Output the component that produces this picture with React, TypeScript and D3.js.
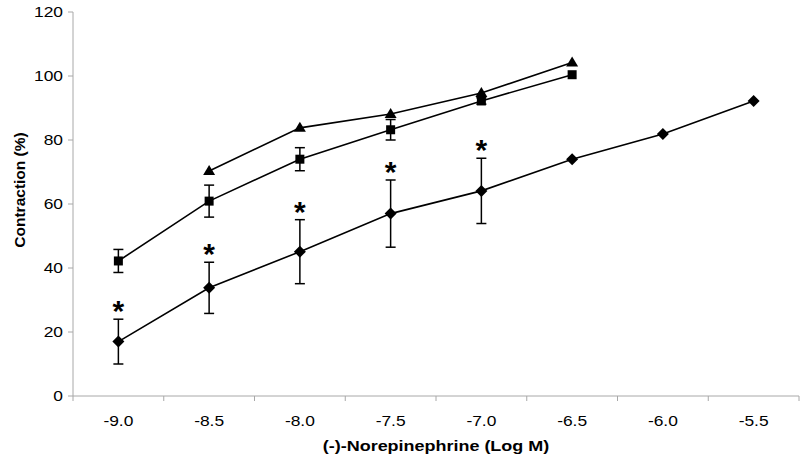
import React from "react";
import * as d3 from "d3";

const categories = ["-9.0", "-8.5", "-8.0", "-7.5", "-7.0", "-6.5", "-6.0", "-5.5"];
const yTicks = [0, 20, 40, 60, 80, 100, 120];

// diamond series (with asterisks)
const diamondX = ["-9.0", "-8.5", "-8.0", "-7.5", "-7.0", "-6.5", "-6.0", "-5.5"];
const diamondY = [17, 33.8, 45.1, 57, 64.1, 74, 81.9, 92.2];
const diamondErr = [7, 8, 10, 10.5, 10.2, 0, 0, 0];
const diamondStar = [true, true, true, true, true, false, false, false];

// square series
const squareX = ["-9.0", "-8.5", "-8.0", "-7.5", "-7.0", "-6.5"];
const squareY = [42.2, 60.9, 74, 83.2, 92.2, 100.4];
const squareErr = [3.6, 5, 3.6, 3.2, 1, 0];

// triangle series
const triangleX = ["-8.5", "-8.0", "-7.5", "-7.0", "-6.5"];
const triangleY = [70.3, 83.8, 88.1, 94.7, 104.2];

const W = 800, H = 468;
const left = 73, right = 799, top = 12, bottom = 396;
const SX = 1.16;

export default function App() {
  const x = d3.scaleBand<string>().domain(categories).range([left, right]);
  const y = d3.scaleLinear().domain([0, 120]).range([bottom, top]);
  const cx = (c: string) => (x(c) as number) + x.bandwidth() / 2;
  const line = d3.line<[number, number]>().x(d => d[0]).y(d => d[1]);
  const font = "Arial, 'Liberation Sans', sans-serif";
  const axisColor = "#a8a8a8";

  const pts = (xs: string[], ys: number[]) => xs.map((c, i) => [cx(c), y(ys[i])] as [number, number]);

  const errBars = (xs: string[], ys: number[], es: number[], key: string) =>
    xs.map((c, i) => {
      if (!es[i]) return null;
      const px = cx(c);
      const y1 = y(ys[i] + es[i]);
      const y2 = y(ys[i] - es[i]);
      return (
        <g key={key + i} stroke="#000" strokeWidth={1.5}>
          <line x1={px} x2={px} y1={y1} y2={y2} />
          <line x1={px - 5} x2={px + 5} y1={y1} y2={y1} />
          <line x1={px - 5} x2={px + 5} y1={y2} y2={y2} />
        </g>
      );
    });

  return (
    <svg width={W} height={H} style={{ position: "absolute", left: 0, top: 0, background: "#fff" }}>
      <rect x={0} y={0} width={W} height={H} fill="#fff" />
      {/* Y axis */}
      <line x1={left} x2={left} y1={top} y2={bottom} stroke={axisColor} strokeWidth={1} />
      {yTicks.map(t => (
        <g key={"yt" + t}>
          <line x1={left - 5} x2={left} y1={y(t)} y2={y(t)} stroke={axisColor} />
          <text transform={`translate(${left - 10},${y(t)}) scale(${SX},1)`} dy="0.36em" textAnchor="end" fontFamily={font} fontSize={15}>{t}</text>
        </g>
      ))}
      {/* X axis */}
      <line x1={left} x2={right} y1={bottom} y2={bottom} stroke={axisColor} strokeWidth={1} />
      {categories.map(c => (
        <g key={"xt" + c}>
          <line x1={x(c) as number} x2={x(c) as number} y1={bottom} y2={bottom + 5} stroke={axisColor} />
          <text transform={`translate(${cx(c)},${bottom + 30}) scale(${SX},1)`} textAnchor="middle" fontFamily={font} fontSize={15}>{c}</text>
        </g>
      ))}
      <line x1={right} x2={right} y1={bottom} y2={bottom + 5} stroke={axisColor} />
      <text transform={`translate(436,451) scale(${SX},1)`} textAnchor="middle" fontFamily={font} fontSize={15.5} fontWeight="bold">(-)-Norepinephrine (Log M)</text>
      <text transform={`translate(25,190) rotate(-90)`} textAnchor="middle" fontFamily={font} fontSize={15.5} fontWeight="bold">Contraction (%)</text>

      {/* error bars */}
      {errBars(diamondX, diamondY, diamondErr, "de")}
      {errBars(squareX, squareY, squareErr, "se")}

      {/* lines */}
      <path d={line(pts(diamondX, diamondY)) as string} fill="none" stroke="#000" strokeWidth={1.6} />
      <path d={line(pts(squareX, squareY)) as string} fill="none" stroke="#000" strokeWidth={1.6} />
      <path d={line(pts(triangleX, triangleY)) as string} fill="none" stroke="#000" strokeWidth={1.6} />

      {/* markers */}
      {pts(diamondX, diamondY).map(([px, py], i) => (
        <path key={"dm" + i} d={`M${px},${py - 6}L${px + 6},${py}L${px},${py + 6}L${px - 6},${py}Z`} fill="#000" />
      ))}
      {pts(squareX, squareY).map(([px, py], i) => (
        <rect key={"sm" + i} x={px - 4.5} y={py - 4.5} width={9} height={9} fill="#000" />
      ))}
      {pts(triangleX, triangleY).map(([px, py], i) => (
        <path key={"tm" + i} d={`M${px},${py - 6}L${px + 6},${py + 4}L${px - 6},${py + 4}Z`} fill="#000" />
      ))}

      {/* asterisks */}
      {diamondX.map((c, i) =>
        diamondStar[i] ? (
          <text key={"st" + i} x={cx(c)} y={y(diamondY[i] + diamondErr[i]) + 2} textAnchor="middle" fontFamily={font} fontSize={30} fontWeight="bold" fill="#000">*</text>
        ) : null
      )}
    </svg>
  );
}
